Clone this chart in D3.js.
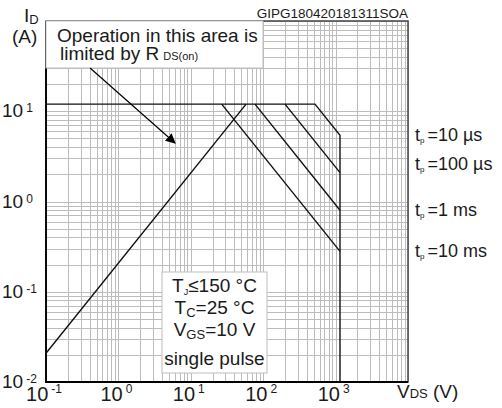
<!DOCTYPE html>
<html>
<head>
<meta charset="utf-8">
<script src="https://cdn.jsdelivr.net/npm/d3@7"></script>
<style>
  body { margin: 0; background: #fff; }
  svg { display: block; font-family: "Liberation Sans", Arial, sans-serif; }
  .grid line { stroke: #bcbcbc; stroke-width: 1; shape-rendering: crispEdges; }
  .curve { fill: none; stroke: #111; stroke-width: 1.4; }
  .lbl { fill: #1a1a1a; }
</style>
</head>
<body>
<div id="chart"></div>
<script>
// values (V in volts, I in amps)
var xDecades = [-1, 0, 1, 2, 3];
var yDecades = [-2, -1, 0, 1];

var pulseLabels = ["10 µs", "100 µs", "1 ms", "10 ms"];

// 10 us curve also carries the I_DM limit and the V_DSS drop
var curve10us = [[0.1, 12], [519, 12], [1150, 5.42], [1150, 0.01]];
var curve100us = [[200, 12], [1150, 2.09]];
var curve1ms = [[77, 12], [1150, 0.80]];
var curve10ms = [[26.7, 12], [1150, 0.28]];
var rdsLimit = [[0.1, 0.0208], [58, 12]];

var pulseCurves = [curve10us, curve100us, curve1ms, curve10ms];
var labelNudge = [0, -9, 0, 0];

var margin = {top: 21, right: 94, bottom: 26, left: 46};
var W = 502, H = 408;
var width = W - margin.left - margin.right;
var height = H - margin.top - margin.bottom;

var svg = d3.select("#chart").append("svg")
    .attr("width", W)
    .attr("height", H);

var g = svg.append("g")
    .attr("transform", "translate(" + margin.left + "," + margin.top + ")");

var x = d3.scaleLog().domain([0.1, 10000]).range([0, width]);
var y = d3.scaleLog().domain([0.01, 100]).range([height, 0]);

function px(v) { return Math.round(v) + 0.5; }

// grid
var grid = g.append("g").attr("class", "grid");
grid.selectAll(".gx")
    .data(x.ticks())
    .enter().append("line")
    .attr("x1", function(d) { return px(x(d)); })
    .attr("x2", function(d) { return px(x(d)); })
    .attr("y1", 0)
    .attr("y2", height);
grid.selectAll(".gy")
    .data(y.ticks())
    .enter().append("line")
    .attr("x1", 0)
    .attr("x2", width)
    .attr("y1", function(d) { return px(y(d)); })
    .attr("y2", function(d) { return px(y(d)); });

// frame
g.append("rect")
    .attr("x", 0).attr("y", 0)
    .attr("width", width).attr("height", height)
    .attr("fill", "none")
    .attr("stroke", "#444")
    .attr("stroke-width", 1.5);
g.append("path")
    .attr("d", "M0,0V" + height + "H" + width)
    .attr("fill", "none")
    .attr("stroke", "#000")
    .attr("stroke-width", 1.8);

// curves
var line = d3.line()
    .x(function(d) { return x(d[0]); })
    .y(function(d) { return y(d[1]); });

g.selectAll(".curve")
    .data(pulseCurves.concat([rdsLimit]))
    .enter().append("path")
    .attr("class", "curve")
    .attr("d", line);

// RDS(on) note box
g.append("rect")
    .attr("x", 0).attr("y", 0)
    .attr("width", 217).attr("height", 47)
    .attr("fill", "#fff")
    .attr("stroke", "#bdbdbd");

svg.append("text").attr("class", "lbl")
    .attr("x", 57).attr("y", 42)
    .style("font-size", "19px")
    .text("Operation in this area is");
var lim = svg.append("text").attr("class", "lbl")
    .attr("x", 60).attr("y", 60)
    .style("font-size", "19px");
lim.append("tspan").text("limited by R");
lim.append("tspan").attr("dx", 4).style("font-size", "11px").text("DS(on)");

svg.append("defs").append("marker")
    .attr("id", "arrow")
    .attr("viewBox", "0 0 10 10")
    .attr("refX", 9).attr("refY", 5)
    .attr("markerWidth", 10).attr("markerHeight", 10)
    .attr("markerUnits", "userSpaceOnUse")
    .attr("orient", "auto")
    .append("path")
    .attr("d", "M0,0L10,5L0,10Z")
    .attr("fill", "#000");

g.append("line")
    .attr("x1", x(0.406)).attr("y1", y(30.1))
    .attr("x2", x(6.05)).attr("y2", y(4.45))
    .attr("stroke", "#000")
    .attr("stroke-width", 1.2)
    .attr("marker-end", "url(#arrow)");

// conditions box
svg.append("rect")
    .attr("x", 162).attr("y", 272)
    .attr("width", 105).attr("height", 101)
    .attr("fill", "#fff")
    .attr("stroke", "#bdbdbd");

var cond = [
    ["T", "J", "≤150 °C", 292, "9px"],
    ["T", "C", "=25 °C", 314, "13px"],
    ["V", "GS", "=10 V", 336, "13px"],
    ["single pulse", "", "", 365, "13px"]
];
cond.forEach(function(c) {
    var t = svg.append("text").attr("class", "lbl")
        .attr("x", 214.5).attr("y", c[3])
        .attr("text-anchor", "middle")
        .style("font-size", "19px");
    t.append("tspan").text(c[0]);
    if (c[1]) {
        t.append("tspan").attr("dy", 3).style("font-size", c[4]).text(c[1]);
        t.append("tspan").attr("dy", -3).text(c[2]);
    }
});

// pulse labels on the right
pulseCurves.forEach(function(c, i) {
    var end = c[c.length - 1][1] > 0.01 ? c[c.length - 1] : c[c.length - 2];
    var t = svg.append("text").attr("class", "lbl")
        .attr("x", 415)
        .attr("y", margin.top + y(end[1]) + 6 + labelNudge[i])
        .style("font-size", "18px");
    t.append("tspan").text("t");
    t.append("tspan").attr("dy", 2).style("font-size", "8px").text("p");
    t.append("tspan").attr("dy", -2).attr("dx", 3).text("=" + pulseLabels[i]);
});

// axis labels
svg.selectAll(".xt")
    .data(xDecades)
    .enter().append("text")
    .attr("class", "lbl")
    .attr("x", function(d) { return margin.left + x(Math.pow(10, d)) - 2; })
    .attr("y", 401)
    .attr("text-anchor", "middle")
    .style("font-size", "20px")
    .each(function(d) {
        var t = d3.select(this);
        t.append("tspan").text("10");
        t.append("tspan").attr("dx", 3).attr("dy", -8).style("font-size", "12px").text(d);
    });

svg.selectAll(".yt")
    .data(yDecades)
    .enter().append("text")
    .attr("class", "lbl")
    .attr("x", 2)
    .attr("y", function(d) { return margin.top + y(Math.pow(10, d)) + 6; })
    .style("font-size", "19px")
    .each(function(d) {
        var t = d3.select(this);
        t.append("tspan").text("10");
        t.append("tspan").attr("dx", 3).attr("dy", -5).style("font-size", "12px").text(d);
    });

var yl = svg.append("text").attr("class", "lbl")
    .attr("x", 24).attr("y", 22)
    .style("font-size", "19px");
yl.append("tspan").text("I");
yl.append("tspan").attr("dy", 2).style("font-size", "13px").text("D");
svg.append("text").attr("class", "lbl")
    .attr("x", 12).attr("y", 43)
    .style("font-size", "19px")
    .text("(A)");

var xl = svg.append("text").attr("class", "lbl")
    .attr("x", 397).attr("y", 398)
    .style("font-size", "19px");
xl.append("tspan").text("V");
xl.append("tspan").style("font-size", "13px").text("DS");
xl.append("tspan").text(" (V)");

svg.append("text").attr("class", "lbl")
    .attr("x", margin.left + width).attr("y", 18)
    .attr("text-anchor", "end")
    .style("font-size", "13.5px")
    .text("GIPG180420181311SOA");
</script>
</body>
</html>
